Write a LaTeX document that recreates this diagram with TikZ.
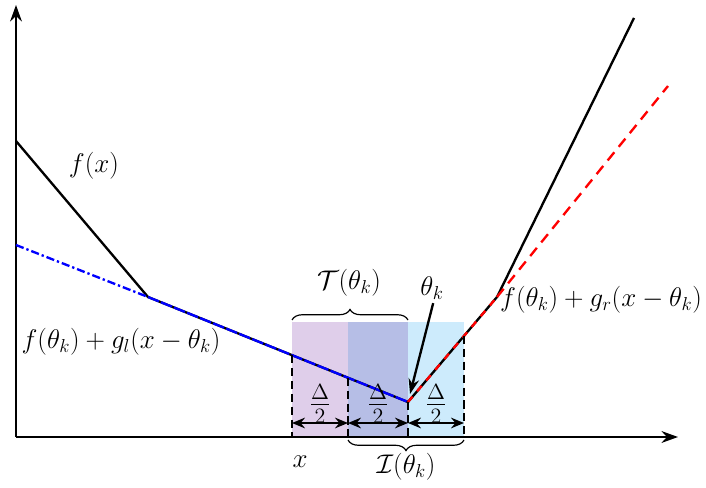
\documentclass[tikz,border=0pt]{standalone}
\usetikzlibrary{arrows.meta,decorations.pathreplacing,calc}
\definecolor{purpleT}{RGB}{223,206,234}
\definecolor{blueM}{RGB}{182,190,230}
\definecolor{cyanI}{RGB}{205,235,252}
\begin{document}
\begin{tikzpicture}[x=0.03cm,y=-0.03cm,
  axis/.style={line width=2.3pt,-{Stealth[length=14pt,width=10pt]}},
  fline/.style={line width=2pt},
  lbl/.style={font=\fontsize{20}{24}\selectfont, inner sep=0pt, scale=1.11, transform shape},
  hlbl/.style={font=\fontsize{20}{24}\selectfont, inner sep=0pt, scale=1.3, transform shape},
  vdash/.style={line width=2.2pt, dash pattern=on 7pt off 4pt},
  darrow/.style={line width=2pt,{Stealth[length=11pt,width=9pt]}-{Stealth[length=11pt,width=9pt]}},
  bracestyle/.style={decorate, decoration={brace,amplitude=9pt}, line width=1pt},
  tharrow/.style={line width=2pt,-{Stealth[length=13pt,width=9pt]}}]
\useasboundingbox (0,0) rectangle (706,488);
% shaded regions
\fill[purpleT] (292,322) rectangle (348,437);
\fill[blueM] (348,322) rectangle (408,437);
\fill[cyanI] (408,322) rectangle (464,437);
% key points
\coordinate (O) at (16,437);
\coordinate (Y) at (16,5);
\coordinate (X) at (678,437);
\coordinate (A) at (16,141);
\coordinate (K1) at (148,297);
\coordinate (TK) at (408,402);
\coordinate (K2) at (497,297);
\coordinate (E) at (634,18);
\coordinate (L0) at (16,245);
\coordinate (R1) at (668,86);
\coordinate (P1) at ($(K1)!0.5538!(TK)$);
\coordinate (P2) at ($(K1)!0.7692!(TK)$);
\coordinate (P4) at ($(TK)!0.629!(K2)$);
% axes
\draw[axis] (O) -- (Y);
\draw[axis] (O) -- (X);
% function
\draw[fline] (A) -- (K1) -- (TK) -- (K2) -- (E);
% left subgradient line
\draw[blue, line width=2pt, dash pattern=on 7pt off 2.5pt on 2pt off 2.5pt] (L0) -- (K1);
\draw[blue, line width=2pt, dash pattern=on 10pt off 2pt] (K1) -- (TK);
% right subgradient line
\draw[red, line width=2pt, dash pattern=on 6pt off 6pt] (TK) -- (K2);
\draw[red, line width=2pt, dash pattern=on 9pt off 6pt] (K2) -- (R1);
% vertical dashed lines
\draw[vdash] (P1) -- (P1 |- O);
\draw[vdash] (P2) -- (P2 |- O);
\draw[vdash] (TK) -- (TK |- O);
\draw[vdash] (P4) -- (P4 |- O);
% half-width arrows
\coordinate (D1) at (292,423);
\coordinate (D2) at (348,423);
\coordinate (D3) at (408,423);
\coordinate (D4) at (464,423);
\draw[darrow] (D1) -- (D2);
\draw[darrow] (D2) -- (D3);
\draw[darrow] (D3) -- (D4);
\node[hlbl] (h1) at (320,404) {$\frac{\Delta}{2}$};
\node[hlbl] (h2) at (378,404) {$\frac{\Delta}{2}$};
\node[hlbl] (h3) at (436,404) {$\frac{\Delta}{2}$};
% braces
\draw[bracestyle] (292,320) -- (408,320);
\draw[bracestyle] (464,440) -- (348,440);
\node[lbl] (T) at (349,283) {$\mathcal{T}(\theta_k)$};
\node[lbl] (I) at (406,467) {$\mathcal{I}(\theta_k)$};
% labels
\node[lbl] (xl) at (300,462) {$x$};
\node[lbl] (fx) at (94,166) {$f(x)$};
\node[lbl] (gl) at (121,342) {$f(\theta_k)+g_l(x-\theta_k)$};
\node[lbl] (gr) at (601,300) {$f(\theta_k)+g_r(x-\theta_k)$};
\node[lbl] (th) at (432,288) {$\theta_k$};
\draw[tharrow, shorten >=7pt] ([xshift=1pt,yshift=-3pt]th.south) -- (TK);
\end{tikzpicture}
\end{document}
